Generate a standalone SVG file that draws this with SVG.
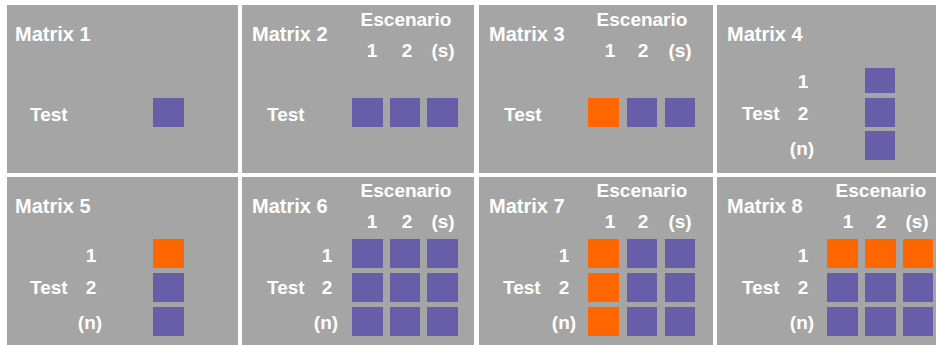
<svg xmlns="http://www.w3.org/2000/svg" width="936" height="345" viewBox="0 0 936 345">
  <style>
    .panel { fill: #A5A5A5; }
    .cell { fill: #675DA9; }
    .hit { fill: #FF6600; }
    text { font-family: "Liberation Sans", Arial, sans-serif; font-weight: bold; fill: #FFFFFF; }
    .title { font-size: 20px; }
    .lbl { font-size: 19px; }
    .mid { text-anchor: middle; }
  </style>
  <rect x="0" y="0" width="936" height="345" fill="#FFFFFF"/>

  <!-- Row 1 -->
  <g id="matrix1">
    <rect class="panel" x="7" y="5" width="231" height="168"/>
    <text class="title" x="15" y="41">Matrix 1</text>
    <text class="lbl" x="30" y="121">Test</text>
    <rect class="cell" x="153" y="98" width="31" height="29"/>
  </g>

  <g id="matrix2">
    <rect class="panel" x="242" y="5" width="232" height="168"/>
    <text class="title" x="252" y="41">Matrix 2</text>
    <text class="lbl mid" x="406" y="26">Escenario</text>
    <text class="lbl mid" x="372" y="57">1</text>
    <text class="lbl mid" x="407" y="57">2</text>
    <text class="lbl mid" x="443" y="57">(s)</text>
    <text class="lbl" x="267" y="121">Test</text>
    <rect class="cell" x="352" y="98" width="31" height="29"/>
    <rect class="cell" x="390" y="98" width="30" height="29"/>
    <rect class="cell" x="427" y="98" width="31" height="29"/>
  </g>

  <g id="matrix3">
    <rect class="panel" x="479" y="5" width="234" height="168"/>
    <text class="title" x="489" y="41">Matrix 3</text>
    <text class="lbl mid" x="642" y="26">Escenario</text>
    <text class="lbl mid" x="610" y="57">1</text>
    <text class="lbl mid" x="643" y="57">2</text>
    <text class="lbl mid" x="680" y="57">(s)</text>
    <text class="lbl" x="504" y="121">Test</text>
    <rect class="hit" x="588" y="98" width="31" height="29"/>
    <rect class="cell" x="627" y="98" width="30" height="29"/>
    <rect class="cell" x="665" y="98" width="30" height="29"/>
  </g>

  <g id="matrix4">
    <rect class="panel" x="717" y="5" width="219" height="168"/>
    <text class="title" x="727" y="41">Matrix 4</text>
    <text class="lbl mid" x="803" y="88">1</text>
    <text class="lbl" x="742" y="120">Test</text>
    <text class="lbl mid" x="803" y="120">2</text>
    <text class="lbl mid" x="802" y="155">(n)</text>
    <rect class="cell" x="865" y="68" width="30" height="25"/>
    <rect class="cell" x="865" y="98" width="30" height="29"/>
    <rect class="cell" x="865" y="131" width="30" height="29"/>
  </g>

  <!-- Row 2 -->
  <g id="matrix5">
    <rect class="panel" x="7" y="177" width="231" height="168"/>
    <text class="title" x="15" y="213">Matrix 5</text>
    <text class="lbl mid" x="91" y="262">1</text>
    <text class="lbl" x="30" y="294">Test</text>
    <text class="lbl mid" x="91" y="294">2</text>
    <text class="lbl mid" x="90" y="329">(n)</text>
    <rect class="hit" x="153" y="239" width="31" height="29"/>
    <rect class="cell" x="153" y="273" width="31" height="29"/>
    <rect class="cell" x="153" y="307" width="31" height="29"/>
  </g>

  <g id="matrix6">
    <rect class="panel" x="242" y="177" width="232" height="168"/>
    <text class="title" x="252" y="213">Matrix 6</text>
    <text class="lbl mid" x="406" y="197">Escenario</text>
    <text class="lbl mid" x="372" y="228">1</text>
    <text class="lbl mid" x="407" y="228">2</text>
    <text class="lbl mid" x="443" y="228">(s)</text>
    <text class="lbl mid" x="327" y="262">1</text>
    <text class="lbl" x="267" y="294">Test</text>
    <text class="lbl mid" x="327" y="294">2</text>
    <text class="lbl mid" x="326" y="329">(n)</text>
    <g>
      <rect class="cell" x="352" y="239" width="31" height="29"/>
      <rect class="cell" x="390" y="239" width="30" height="29"/>
      <rect class="cell" x="427" y="239" width="31" height="29"/>
      <rect class="cell" x="352" y="273" width="31" height="29"/>
      <rect class="cell" x="390" y="273" width="30" height="29"/>
      <rect class="cell" x="427" y="273" width="31" height="29"/>
      <rect class="cell" x="352" y="307" width="31" height="29"/>
      <rect class="cell" x="390" y="307" width="30" height="29"/>
      <rect class="cell" x="427" y="307" width="31" height="29"/>
    </g>
  </g>

  <g id="matrix7">
    <rect class="panel" x="479" y="177" width="234" height="168"/>
    <text class="title" x="489" y="213">Matrix 7</text>
    <text class="lbl mid" x="642" y="197">Escenario</text>
    <text class="lbl mid" x="610" y="228">1</text>
    <text class="lbl mid" x="643" y="228">2</text>
    <text class="lbl mid" x="680" y="228">(s)</text>
    <text class="lbl mid" x="564" y="262">1</text>
    <text class="lbl" x="503" y="294">Test</text>
    <text class="lbl mid" x="564" y="294">2</text>
    <text class="lbl mid" x="564" y="329">(n)</text>
    <g>
      <rect class="hit" x="588" y="239" width="31" height="29"/>
      <rect class="cell" x="627" y="239" width="30" height="29"/>
      <rect class="cell" x="665" y="239" width="30" height="29"/>
      <rect class="hit" x="588" y="273" width="31" height="29"/>
      <rect class="cell" x="627" y="273" width="30" height="29"/>
      <rect class="cell" x="665" y="273" width="30" height="29"/>
      <rect class="hit" x="588" y="307" width="31" height="29"/>
      <rect class="cell" x="627" y="307" width="30" height="29"/>
      <rect class="cell" x="665" y="307" width="30" height="29"/>
    </g>
  </g>

  <g id="matrix8">
    <rect class="panel" x="717" y="177" width="219" height="168"/>
    <text class="title" x="727" y="213">Matrix 8</text>
    <text class="lbl mid" x="881" y="197">Escenario</text>
    <text class="lbl mid" x="848" y="228">1</text>
    <text class="lbl mid" x="881" y="228">2</text>
    <text class="lbl mid" x="917" y="228">(s)</text>
    <text class="lbl mid" x="803" y="262">1</text>
    <text class="lbl" x="742" y="294">Test</text>
    <text class="lbl mid" x="803" y="294">2</text>
    <text class="lbl mid" x="802" y="329">(n)</text>
    <g>
      <rect class="hit" x="827" y="239" width="31" height="29"/>
      <rect class="hit" x="865" y="239" width="31" height="29"/>
      <rect class="hit" x="903" y="239" width="30" height="29"/>
      <rect class="cell" x="827" y="273" width="31" height="29"/>
      <rect class="cell" x="865" y="273" width="31" height="29"/>
      <rect class="cell" x="903" y="273" width="30" height="29"/>
      <rect class="cell" x="827" y="307" width="31" height="29"/>
      <rect class="cell" x="865" y="307" width="31" height="29"/>
      <rect class="cell" x="903" y="307" width="30" height="29"/>
    </g>
  </g>

  <!-- no connectors between panels -->
  <g id="connectors"/>
</svg>
